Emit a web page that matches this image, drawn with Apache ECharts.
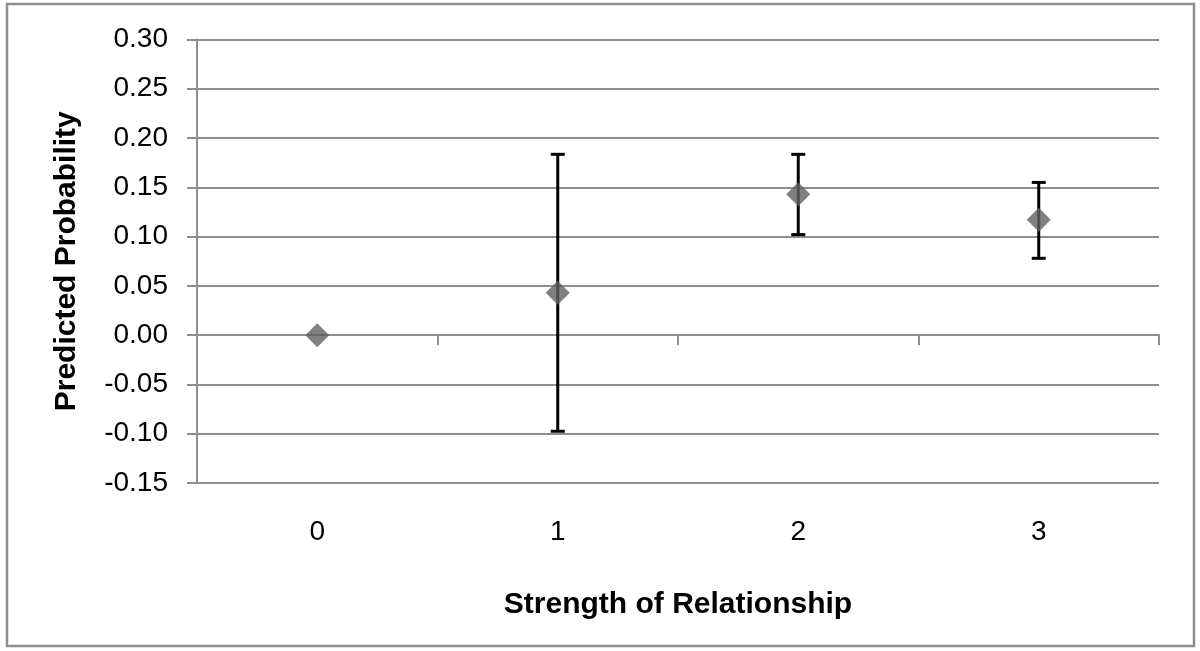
<!DOCTYPE html>
<html>
<head>
<meta charset="utf-8">
<script src="https://cdn.jsdelivr.net/npm/echarts@6/dist/echarts.min.js"></script>
<style>
html,body{margin:0;padding:0;background:#fff;}
#chart{width:1200px;height:651px;}
</style>
</head>
<body>
<div id="chart"></div>
<script>
const categories = ['0', '1', '2', '3'];
const predicted = [0.000, 0.043, 0.143, 0.117];
const lowerCI = [null, -0.0975, 0.102, 0.078];
const upperCI = [null, 0.1835, 0.1835, 0.155];
const yTicks = { min: -0.15, max: 0.30, step: 0.05 };

const errData = [];
for (let i = 0; i < categories.length; i++) {
  if (lowerCI[i] !== null) errData.push([i, lowerCI[i], upperCI[i]]);
}

const chart = echarts.init(document.getElementById('chart'));
const gray = '#8e8e8e';
const font = 'Liberation Sans, Arial, sans-serif';

chart.setOption({
  animation: false,
  backgroundColor: '#fff',
  graphic: [{
    type: 'rect',
    shape: { x: 7, y: 4, width: 1187, height: 642 },
    style: { fill: 'none', stroke: gray, lineWidth: 2.5 },
    z: -1
  }],
  grid: { left: 197, right: 41, top: 39.5, bottom: 168, containLabel: false },
  xAxis: [{
    type: 'category',
    data: categories,
    boundaryGap: true,
    axisLine: { show: true, onZero: true, lineStyle: { color: gray, width: 2 } },
    axisTick: { show: true, length: 10, lineStyle: { color: gray, width: 2 } },
    axisLabel: { show: false },
    splitLine: { show: false }
  }, {
    type: 'category',
    data: categories,
    position: 'bottom',
    boundaryGap: true,
    axisLine: { show: false, onZero: false },
    axisTick: { show: false },
    axisLabel: { show: true, margin: 35, fontSize: 28, color: '#000', fontFamily: font },
    splitLine: { show: false },
    name: 'Strength of Relationship',
    nameLocation: 'middle',
    nameGap: 107,
    nameTextStyle: { fontSize: 30, fontWeight: 'bold', color: '#000', fontFamily: font }
  }],
  yAxis: {
    type: 'value',
    min: yTicks.min,
    max: yTicks.max,
    interval: yTicks.step,
    axisLine: { show: true, lineStyle: { color: gray, width: 2 } },
    axisTick: { show: true, length: 10, lineStyle: { color: gray, width: 2 } },
    axisLabel: {
      margin: 29, fontSize: 28, color: '#000', fontFamily: font,
      formatter: v => v.toFixed(2)
    },
    splitLine: { show: true, lineStyle: { color: gray, width: 2 } },
    name: 'Predicted Probability',
    nameLocation: 'middle',
    nameGap: 115,
    nameTextStyle: { fontSize: 30, fontWeight: 'bold', color: '#000', fontFamily: font }
  },
  series: [{
    type: 'custom',
    xAxisIndex: 0,
    data: errData,
    z: 2,
    renderItem: function (params, api) {
      const x = api.value(0);
      const lo = api.coord([x, api.value(1)]);
      const hi = api.coord([x, api.value(2)]);
      const cap = 7;
      const st = { stroke: '#000', lineWidth: 3 };
      return {
        type: 'group',
        children: [
          { type: 'line', shape: { x1: hi[0], y1: hi[1], x2: lo[0], y2: lo[1] }, style: st },
          { type: 'line', shape: { x1: hi[0] - cap, y1: hi[1], x2: hi[0] + cap, y2: hi[1] }, style: st },
          { type: 'line', shape: { x1: lo[0] - cap, y1: lo[1], x2: lo[0] + cap, y2: lo[1] }, style: st }
        ]
      };
    }
  }, {
    type: 'scatter',
    xAxisIndex: 0,
    data: predicted,
    symbol: 'diamond',
    symbolSize: [24, 24],
    itemStyle: { color: '#606060' },
    z: 5
  }]
});
</script>
</body>
</html>
